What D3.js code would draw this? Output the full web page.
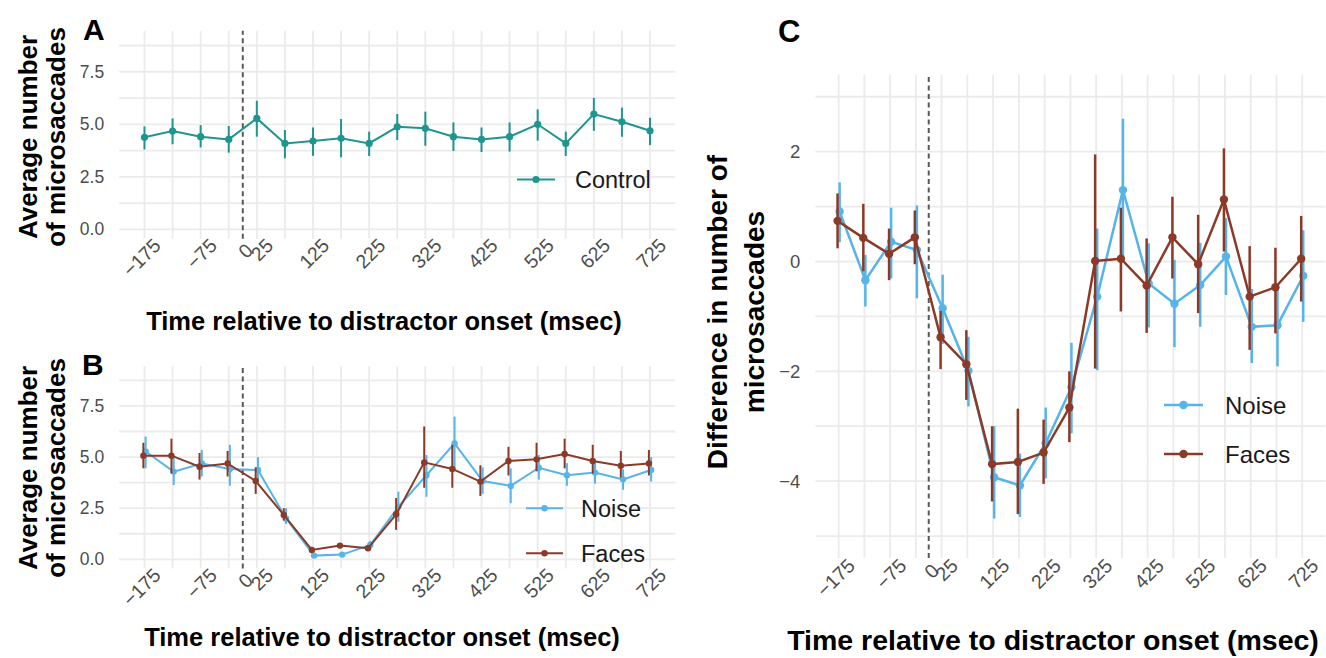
<!DOCTYPE html>
<html>
<head>
<meta charset="utf-8">
<script src="https://cdn.jsdelivr.net/npm/d3@7"></script>
<style>
  body { margin: 0; background: #fff; }
  text { font-family: "Liberation Sans", Arial, Helvetica, sans-serif; }
</style>
</head>
<body>
<svg id="chart" width="1326" height="658"></svg>
<script>
// time bins (ms relative to distractor onset)
const times = [-175, -125, -75, -25, 25, 75, 125, 175, 225, 275, 325, 375, 425, 475, 525, 575, 625, 675, 725];
const xTickValues = [-175, -75, 0, 25, 125, 225, 325, 425, 525, 625, 725];

// panel A - control
const controlMean = [4.38, 4.68, 4.41, 4.28, 5.28, 4.09, 4.20, 4.33, 4.09, 4.88, 4.81, 4.41, 4.28, 4.41, 5.00, 4.09, 5.49, 5.12, 4.69];
const controlLow  = [3.80, 4.05, 3.90, 3.65, 4.41, 3.38, 3.50, 3.43, 3.49, 4.25, 3.98, 3.73, 3.68, 3.70, 4.22, 3.49, 4.69, 4.41, 4.01];
const controlHigh = [4.90, 5.28, 4.96, 4.92, 6.12, 4.73, 4.85, 5.25, 4.65, 5.49, 5.60, 5.09, 4.85, 5.09, 5.71, 4.65, 6.26, 5.79, 5.31];

// panel B - noise / faces
const noiseMean = [5.27, 4.29, 4.69, 4.42, 4.37, 2.00, 0.18, 0.23, 0.70, 2.57, 4.11, 5.67, 3.83, 3.59, 4.48, 4.11, 4.24, 3.91, 4.37];
const noiseLow  = [4.45, 3.63, 4.05, 3.60, 3.80, 1.73, 0.08, 0.13, 0.55, 1.84, 3.06, 4.40, 3.20, 2.74, 3.90, 3.60, 3.70, 3.40, 3.80];
const noiseHigh = [6.00, 4.95, 5.35, 5.60, 5.00, 2.50, 0.28, 0.33, 0.90, 3.31, 5.10, 6.98, 4.50, 4.45, 5.10, 4.70, 4.80, 4.40, 5.00];
const facesMean = [5.07, 5.07, 4.53, 4.69, 3.83, 2.17, 0.46, 0.67, 0.54, 2.20, 4.74, 4.42, 3.80, 4.81, 4.89, 5.15, 4.81, 4.58, 4.69];
const facesLow  = [4.45, 4.20, 3.90, 4.05, 3.20, 1.90, 0.36, 0.57, 0.44, 1.44, 3.50, 3.50, 3.10, 4.10, 4.30, 4.45, 4.20, 4.00, 4.10];
const facesHigh = [5.70, 5.90, 5.20, 5.30, 4.50, 2.50, 0.56, 0.77, 0.64, 3.00, 6.50, 5.60, 4.60, 5.50, 5.70, 5.90, 5.60, 5.30, 5.35];

// panel C - difference from control
const noiseDiff     = [0.91, -0.34, 0.36, 0.21, -0.85, -1.99, -3.93, -4.08, -3.31, -2.29, -0.64, 1.30, -0.40, -0.77, -0.43, 0.09, -1.19, -1.16, -0.26];
const noiseDiffLow  = [0.35, -0.82, -0.31, -0.67, -1.50, -2.64, -4.68, -4.65, -3.95, -3.13, -1.98, 0.00, -1.20, -1.56, -1.19, -0.61, -1.85, -1.91, -1.10];
const noiseDiffHigh = [1.44, 0.12, 0.98, 1.02, -0.24, -1.37, -3.00, -3.50, -2.66, -1.48, 0.60, 2.60, 0.33, 0.03, 0.34, 0.79, -0.50, -0.45, 0.57];
const facesDiff     = [0.74, 0.43, 0.14, 0.44, -1.38, -1.87, -3.69, -3.65, -3.48, -2.66, 0.01, 0.05, -0.44, 0.44, -0.05, 1.13, -0.64, -0.47, 0.05];
const facesDiffLow  = [0.24, -0.18, -0.34, -0.05, -1.96, -2.52, -4.37, -4.60, -4.05, -3.29, -1.95, -0.91, -1.30, -0.31, -0.94, 0.18, -1.61, -1.31, -0.73];
const facesDiffHigh = [1.24, 1.05, 0.60, 0.93, -0.90, -1.25, -3.00, -2.68, -2.88, -2.00, 1.95, 0.98, 0.42, 1.18, 0.85, 2.06, 0.28, 0.25, 0.83];

const COLORS = {control: "#1f958f", noise: "#56b4e9", faces: "#8c3a28"};
const GRID = "#ebebeb";

function rows(mean, low, high){
    return times.map((t, i) => ({t, m: mean[i], lo: low[i], hi: high[i]}));
}

const svg = d3.select("#chart");
svg.append("rect").attr("width", 1326).attr("height", 658).attr("fill", "#fff");

function drawPanel(p){
    const x = d3.scaleLinear().domain([-220, 770]).range(p.xRange);
    const y = d3.scaleLinear().domain(p.yDomain).range(p.yRange);
    const [x0, x1] = p.xRange;
    const [yb, yt] = p.yRange;
    const g = svg.append("g");

    // grid: minor + major horizontals, vertical at every bin
    g.selectAll(".hgrid")
        .data(p.yMinor.concat(p.yTicks))
        .join("line")
        .attr("x1", x0).attr("x2", x1)
        .attr("y1", d => y(d)).attr("y2", d => y(d))
        .attr("stroke", GRID).attr("stroke-width", 1.8);
    g.selectAll(".vgrid")
        .data(times)
        .join("line")
        .attr("x1", d => x(d)).attr("x2", d => x(d))
        .attr("y1", yb).attr("y2", yt)
        .attr("stroke", GRID).attr("stroke-width", 1.8);

    // distractor onset
    g.append("line")
        .attr("x1", x(0)).attr("x2", x(0))
        .attr("y1", yb).attr("y2", yt)
        .attr("stroke", "#595959").attr("stroke-width", 2)
        .attr("stroke-dasharray", "5,3.5");

    // axes (labels only)
    const yAxis = g.append("g")
        .attr("transform", `translate(${x0},0)`)
        .call(d3.axisLeft(y).tickValues(p.yTicks).tickFormat(p.yFormat).tickSize(0).tickPadding(15));
    yAxis.select(".domain").remove();
    yAxis.selectAll("text").attr("fill", "#4d4d4d").style("font-size", p.tickSize + "px");

    const xAxis = g.append("g")
        .attr("transform", `translate(0,${yb})`)
        .call(d3.axisBottom(x).tickValues(xTickValues).tickFormat(d3.format("d")).tickSize(0));
    xAxis.select(".domain").remove();
    xAxis.selectAll("text")
        .attr("x", 0).attr("y", 0).attr("dy", 0)
        .attr("text-anchor", "end")
        // the 0 label sits tight against the dashed line
        .attr("transform", d => `translate(${p.xLab[0] - (d === 0 ? 6 : 0)},${p.xLab[1] + (d === 0 ? 5 : 0)}) rotate(-45)`)
        .attr("fill", "#4d4d4d")
        .style("font-size", p.xTickSize + "px");

    // series
    p.series.forEach(s => {
        const data = rows(s.mean, s.low, s.high);
        const px = d => x(d.t + s.dodge);
        g.append("path")
            .datum(data)
            .attr("fill", "none")
            .attr("stroke", s.color)
            .attr("stroke-width", p.lw)
            .attr("d", d3.line().x(px).y(d => y(d.m)));
        g.selectAll(null)
            .data(data)
            .join("line")
            .attr("x1", px).attr("x2", px)
            .attr("y1", d => y(d.lo)).attr("y2", d => y(d.hi))
            .attr("stroke", s.color).attr("stroke-width", p.lw);
        g.selectAll(null)
            .data(data)
            .join("circle")
            .attr("cx", px).attr("cy", d => y(d.m))
            .attr("r", p.r)
            .attr("fill", s.color);
    });

    // legend
    p.series.forEach((s, i) => {
        const ly = p.legend.y + i * p.legend.gap;
        const [a, b] = p.legend.seg;
        g.append("line")
            .attr("x1", a).attr("x2", b).attr("y1", ly).attr("y2", ly)
            .attr("stroke", s.color).attr("stroke-width", p.lw);
        g.append("circle")
            .attr("cx", (a + b) / 2).attr("cy", ly).attr("r", p.r)
            .attr("fill", s.color);
        g.append("text")
            .attr("x", p.legend.tx).attr("y", ly).attr("dy", "0.36em")
            .attr("fill", "#1a1a1a")
            .style("font-size", p.legend.size + "px")
            .text(s.name);
    });

    // titles
    g.append("text")
        .attr("x", p.letter[0]).attr("y", p.letter[1])
        .style("font-size", p.letter[2] + "px").style("font-weight", "bold")
        .text(p.letter[3]);

    const cy = p.yTitle.cy;
    p.yTitle.lines.forEach((line, i) => {
        g.append("text")
            .attr("transform", `translate(${p.yTitle.x[i]},${cy}) rotate(-90)`)
            .attr("text-anchor", "middle")
            .style("font-size", p.yTitle.size + "px").style("font-weight", "bold")
            .text(line);
    });

    g.append("text")
        .attr("x", p.xTitle.x).attr("y", p.xTitle.y)
        .attr("text-anchor", "middle")
        .style("font-size", p.xTitle.size + "px").style("font-weight", "bold")
        .text("Time relative to distractor onset (msec)");
}

const fmt1 = d3.format(".1f");
const fmt0 = d3.format("d");

drawPanel({
    xRange: [119.2, 675.3], yRange: [238.8, 30.8], yDomain: [-0.45, 9.45],
    yTicks: [0, 2.5, 5, 7.5], yMinor: [1.25, 3.75, 6.25, 8.75], yFormat: fmt1,
    tickSize: 17.5, xTickSize: 19.5, xLab: [17, 8], lw: 2, r: 3.6,
    series: [{name: "Control", color: COLORS.control, mean: controlMean, low: controlLow, high: controlHigh, dodge: 0}],
    legend: {y: 179.5, gap: 0, seg: [517, 555], tx: 575, size: 23.5},
    letter: [83, 40, 30, "A"],
    yTitle: {lines: ["Average number", "of microsaccades"], x: [37, 65], cy: 137, size: 26},
    xTitle: {x: 384, y: 330, size: 25.5}
});

drawPanel({
    xRange: [119.2, 675.3], yRange: [568.5, 366.1], yDomain: [-0.45, 9.45],
    yTicks: [0, 2.5, 5, 7.5], yMinor: [1.25, 3.75, 6.25, 8.75], yFormat: fmt1,
    tickSize: 17.5, xTickSize: 19.5, xLab: [17, 8], lw: 2, r: 3.2,
    series: [
        {name: "Noise", color: COLORS.noise, mean: noiseMean, low: noiseLow, high: noiseHigh, dodge: 2},
        {name: "Faces", color: COLORS.faces, mean: facesMean, low: facesLow, high: facesHigh, dodge: -2}
    ],
    legend: {y: 508.3, gap: 45, seg: [526, 563], tx: 581, size: 23.5},
    letter: [82, 375, 30, "B"],
    yTitle: {lines: ["Average number", "of microsaccades"], x: [37, 65], cy: 468, size: 26},
    xTitle: {x: 382, y: 646, size: 25.5}
});

drawPanel({
    xRange: [815.4, 1325.4], yRange: [558, 74.8], yDomain: [-5.4, 3.4],
    yTicks: [-4, -2, 0, 2], yMinor: [-5, -3, -1, 1, 3], yFormat: fmt0,
    tickSize: 18.5, xTickSize: 19.5, xLab: [17, 9], lw: 2.5, r: 4.2,
    series: [
        {name: "Noise", color: COLORS.noise, mean: noiseDiff, low: noiseDiffLow, high: noiseDiffHigh, dodge: 2},
        {name: "Faces", color: COLORS.faces, mean: facesDiff, low: facesDiffLow, high: facesDiffHigh, dodge: -2}
    ],
    legend: {y: 405, gap: 49, seg: [1164, 1203], tx: 1225, size: 24},
    letter: [778, 42, 31, "C"],
    yTitle: {lines: ["Difference in number of", "microsaccades"], x: [727, 764], cy: 312, size: 28},
    xTitle: {x: 1053, y: 650, size: 28.5}
});
</script>
</body>
</html>
